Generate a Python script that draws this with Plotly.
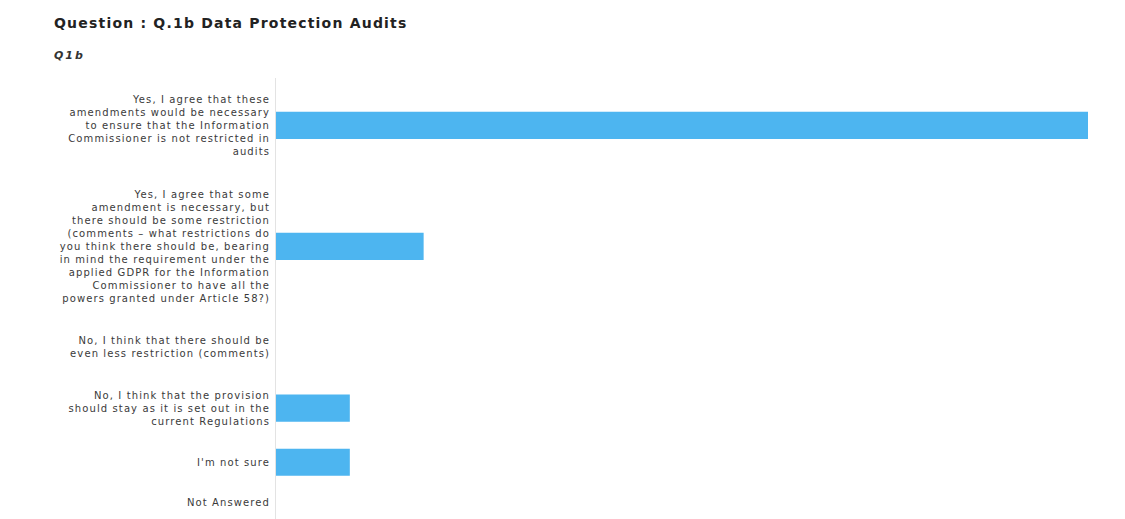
import plotly.graph_objects as go

categories = [
    "Yes, I agree that these<br>amendments would be necessary<br>to ensure that the Information<br>Commissioner is not restricted in<br>audits",
    "Yes, I agree that some<br>amendment is necessary, but<br>there should be some restriction<br>(comments – what restrictions do<br>you think there should be, bearing<br>in mind the requirement under the<br>applied GDPR for the Information<br>Commissioner to have all the<br>powers granted under Article 58?)",
    "No, I think that there should be<br>even less restriction (comments)",
    "No, I think that the provision<br>should stay as it is set out in the<br>current Regulations",
    "I'm not sure",
    "Not Answered",
]
counts = [11, 2, 0, 1, 1, 0]

title_text = "Question : Q.1b Data Protection Audits"
subtitle_text = "Q1b"


def spaced(text, ls):
    return "<br>".join(
        f"<span style='letter-spacing:{ls}px'>{ln}</span>" for ln in text.split("<br>")
    )


# Category slots sized by the number of label lines (like the source layout)
LINE = 13.3
GAP = 27.0
lines = [c.count("<br>") + 1 for c in categories]
pos = [0.0]
for i in range(1, len(categories)):
    pos.append(pos[-1] + (lines[i - 1] + lines[i]) / 2 * LINE + GAP)

fig = go.Figure(
    go.Bar(
        x=counts,
        y=pos,
        orientation="h",
        width=27,
        marker=dict(color="#4db5f0", line=dict(width=0)),
        hoverinfo="x",
    )
)

fig.update_layout(
    width=1125,
    height=519,
    margin=dict(l=276, r=37, t=78, b=0),
    paper_bgcolor="white",
    plot_bgcolor="white",
    showlegend=False,
    font=dict(family="DejaVu Sans, Arial, sans-serif", color="#333333"),
    xaxis=dict(
        range=[0, max(counts)],
        showgrid=False,
        zeroline=False,
        showticklabels=False,
        showline=False,
        ticks="",
    ),
    yaxis=dict(
        range=[pos[-1] + 16, pos[0] - 47],
        tickvals=pos,
        ticktext=[spaced(c, 1.1) for c in categories],
        showgrid=False,
        zeroline=False,
        showline=True,
        linecolor="#e3e3e3",
        linewidth=1,
        ticks="",
        ticklabelstandoff=3,
        tickfont=dict(family="DejaVu Sans, sans-serif", size=10, color="#3a3a3a"),
    ),
    annotations=[
        dict(
            text="<b>" + spaced(title_text, 1.2) + "</b>",
            xref="paper", yref="paper",
            x=(52 - 276) / 812, y=1 + (78 - 23) / 441,
            xanchor="left", yanchor="middle",
            showarrow=False,
            font=dict(family="DejaVu Sans, sans-serif", size=14, color="#222222"),
        ),
        dict(
            text="<b><i>" + spaced(subtitle_text, 2) + "</i></b>",
            xref="paper", yref="paper",
            x=(52 - 276) / 812, y=1 + (78 - 55) / 441,
            xanchor="left", yanchor="middle",
            showarrow=False,
            font=dict(family="DejaVu Sans, sans-serif", size=11, color="#333333"),
        ),
    ],
)

fig.write_html("out.html")
